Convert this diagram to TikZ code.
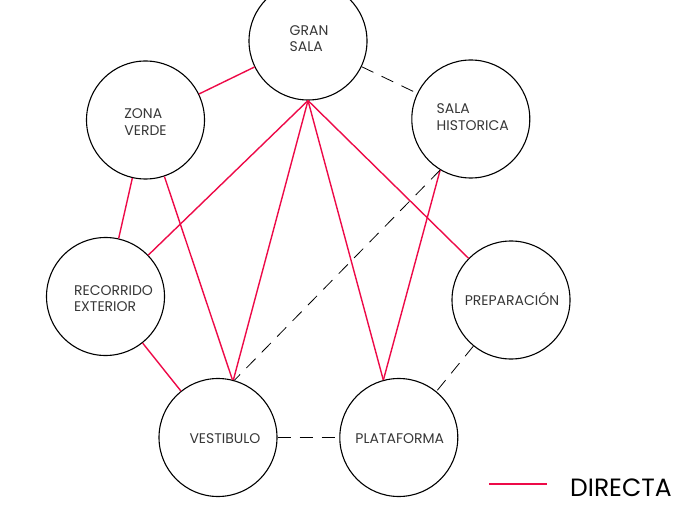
\documentclass[tikz,border=0pt]{standalone}
\usepackage{fontspec}
\setmainfont{Poppins}
\usepackage{tikz}
\definecolor{directa}{RGB}{237,10,72}
\definecolor{txtgray}{RGB}{55,55,55}

\begin{document}
\begin{tikzpicture}[x=1pt,y=-1pt,
    room/.style={circle,draw=black,line width=1.1pt,minimum size=118pt,inner sep=0pt},
    tag/.style={font=\fontsize{14}{16.5}\selectfont,text=txtgray,align=left,inner sep=0pt},
    direct/.style={draw=directa,line width=1.4pt},
    indirect/.style={draw=black,line width=0.8pt,dash pattern=on 13pt off 9pt}]
  \useasboundingbox (0,0) rectangle (684,510);
  % rooms
  \node[room,label={[tag,xshift=1pt,yshift=2.5pt]center:GRAN\\SALA}] (gran) at (308,41) {};
  \node[room,label={[tag,yshift=-2pt]center:ZONA\\VERDE}] (zona) at (145.5,120) {};
  \node[room,label={[tag,xshift=2pt,yshift=2pt]center:SALA\\HISTORICA}] (hist) at (470.8,119) {};
  \node[room,label={[tag,xshift=8pt,yshift=-2pt]center:RECORRIDO\\EXTERIOR}] (rec) at (105.5,296.5) {};
  \node[room,label={[tag,xshift=1pt,yshift=1pt]center:PREPARACIÓN}] (prep) at (511,300) {};
  \node[room,label={[tag,xshift=7pt,yshift=-1pt]center:VESTIBULO}] (vest) at (218,437.5) {};
  \node[room,label={[tag,xshift=1pt,yshift=-1pt]center:PLATAFORMA}] (plat) at (398.8,437.5) {};
  % direct links
  \draw[direct] (gran) -- (zona);
  \draw[direct] (gran.south) -- (rec);
  \draw[direct] (gran.south) -- (vest);
  \draw[direct] (gran.south) -- (plat);
  \draw[direct] (gran.south) -- (prep);
  \draw[direct] (zona) -- (rec);
  \draw[direct] (zona) -- (vest.76);
  \draw[direct] (rec) -- (vest);
  \draw[direct] (hist.239) -- (plat.105);
  % indirect links
  \draw[indirect] (gran) -- (hist);
  \draw[indirect] (hist.239) -- (vest.74);
  \draw[indirect] (vest) -- (plat);
  \draw[indirect] (prep) -- (plat);
  % legend
  \coordinate (legA) at (489,482.7);
  \coordinate (legB) at (547,484.5);
  \fill[directa] (legA) rectangle (legB);
  \node[anchor=west,inner sep=0pt,font=\fontsize{25}{29}\selectfont] (legtxt) at (570,487.5) {DIRECTA};
\end{tikzpicture}
\end{document}
